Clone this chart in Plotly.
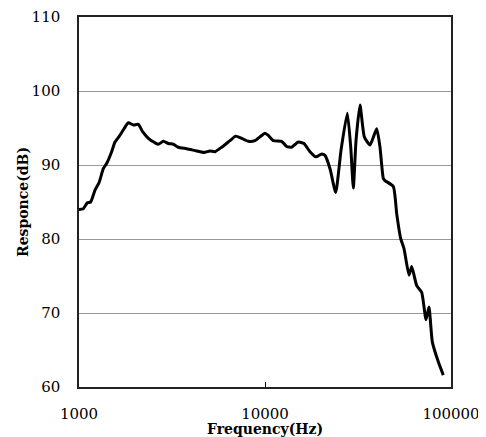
import plotly.graph_objects as go

freq_hz = [1000, 1055, 1109, 1155, 1219, 1281, 1351, 1408, 1498, 1561, 1647, 1746, 1842,
           1960, 2084, 2199, 2359, 2563, 2670, 2841, 3022, 3216, 3420, 3793, 4292, 4699,
           5062, 5385, 5848, 6484, 6955, 7491, 8137, 8836, 9400, 10000, 10421, 11087,
           12290, 13077, 13913, 15112, 16204, 17456, 18802, 20171, 21021, 22363, 23994,
           25627, 27704, 28905, 29843, 30856, 32419, 34198, 36680, 39857, 41522, 43253,
           44180, 48959, 51069, 53650, 55889, 59462, 61483, 65401, 69566, 73370, 76140,
           79340, 85440, 90900]
response_db = [84.0, 84.1, 84.9, 85.0, 86.6, 87.6, 89.5, 90.2, 91.8, 93.1, 93.9, 94.9, 95.7,
               95.4, 95.5, 94.5, 93.6, 93.0, 92.8, 93.2, 92.9, 92.8, 92.4, 92.2, 91.9, 91.7,
               91.9, 91.8, 92.4, 93.3, 93.9, 93.6, 93.2, 93.3, 93.8, 94.3, 94.0, 93.3,
               93.2, 92.5, 92.4, 93.1, 92.9, 91.8, 91.1, 91.5, 91.3, 89.5, 86.3,
               92.0, 97.0, 92.4, 86.9, 93.3, 98.1, 93.8, 92.7, 94.9, 92.4, 88.2,
               87.9, 87.1, 83.4, 80.05, 78.7, 75.1, 76.3, 73.7, 72.8, 69.1, 70.8,
               66.1, 63.4, 61.6]

x_tickvals = [1000, 10000, 100000]
x_ticktext = ["1000", "10000", "100000"]
y_tickvals = [60, 70, 80, 90, 100, 110]

fig = go.Figure()
fig.add_trace(go.Scatter(
    x=freq_hz, y=response_db, mode="lines",
    line=dict(color="black", width=3, shape="spline", smoothing=0.5),
    showlegend=False, hoverinfo="skip",
))

tick_font = dict(family="DejaVu Serif", size=15, color="black")
title_font = dict(family="DejaVu Serif", size=14, color="black", weight="bold")

fig.update_layout(
    width=478, height=429,
    margin=dict(l=71, r=35, t=9, b=50, autoexpand=False),
    paper_bgcolor="white", plot_bgcolor="white",
    xaxis=dict(
        type="log", range=[3, 5], automargin=False,
        tickvals=x_tickvals, ticktext=x_ticktext,
        ticks="inside", ticklen=5, tickcolor="black", tickwidth=1,
        showgrid=False, zeroline=False,
        showline=True, linecolor="#222", linewidth=1.5, mirror=True,
        tickfont=tick_font, ticklabelstandoff=12,
        title=dict(text="Frequency(Hz)", font=title_font, standoff=6),
    ),
    yaxis=dict(
        range=[60, 110], tickvals=y_tickvals, automargin=False,
        ticks="", showgrid=True, gridcolor="#999999", gridwidth=1,
        zeroline=False,
        showline=True, linecolor="#222", linewidth=1.5, mirror=True,
        tickfont=tick_font, ticklabelstandoff=14,
        title=dict(text="Responce(dB)", font=title_font, standoff=0),
    ),
)

fig.write_html("out.html")
